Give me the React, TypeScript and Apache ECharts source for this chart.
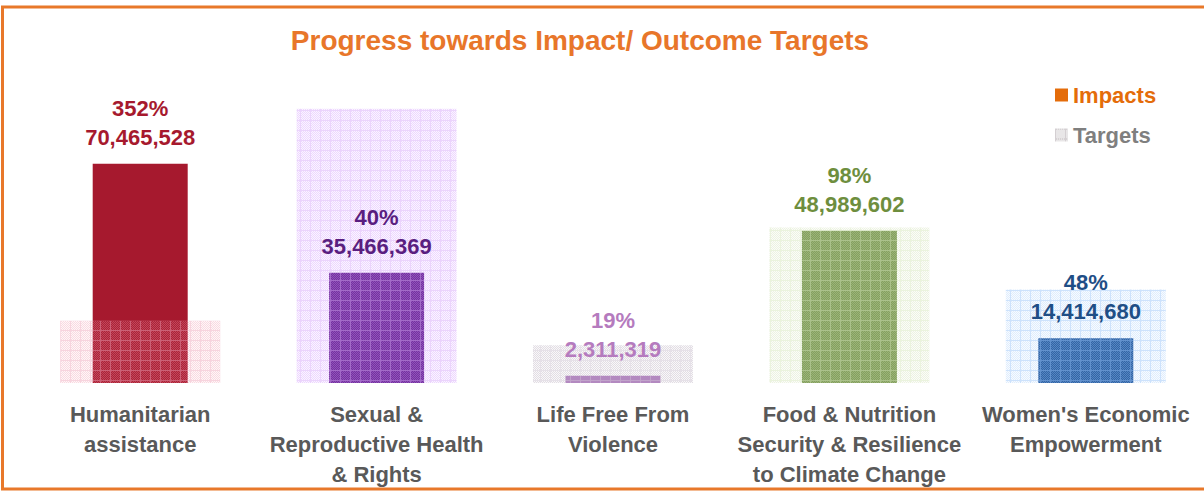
import React, { useEffect, useRef } from "react";
import * as echarts from "echarts";

const categories = [
  "Humanitarian\nassistance",
  "Sexual &\nReproductive Health\n& Rights",
  "Life Free From\nViolence",
  "Food & Nutrition\nSecurity & Resilience\nto Climate Change",
  "Women's Economic\nEmpowerment",
];
const impacts = [70465528, 35466369, 2311319, 48989602, 14414680];
const targets = [20018616, 88200000, 12164837, 49989390, 30030583];
const percents = [352, 40, 19, 98, 48];

const impactColors = ["#A6192E", "#6E2D96", "#B482C3", "#7E9B58", "#285CA0"];
const labelColors = ["#A6192E", "#5A1E80", "#B57BBE", "#6E8E3E", "#1F4E86"];
// pattern fill colour (checker) and grid line colour for each target bar, as rgb triples
const targetFill = [
  [240, 150, 172],
  [205, 140, 255],
  [175, 160, 180],
  [205, 222, 175],
  [165, 205, 250],
];
const targetLine = [
  [240, 170, 190],
  [215, 170, 250],
  [205, 195, 210],
  [215, 232, 190],
  [155, 198, 250],
];

const FONT = '"Liberation Sans", Arial, Helvetica, sans-serif';

function makeTile(fill: number[], line: number[]): HTMLCanvasElement {
  const c = document.createElement("canvas");
  c.width = 10;
  c.height = 10;
  const g = c.getContext("2d")!;
  g.clearRect(0, 0, 10, 10);
  const rgba = (col: number[], a: number) => `rgba(${col[0]},${col[1]},${col[2]},${a})`;
  for (let y = 0; y < 10; y++) {
    for (let x = 0; x < 10; x++) {
      if (x === 0 || y === 0) g.fillStyle = rgba(line, 0.5);
      else if ((x + y) % 2 === 0) g.fillStyle = rgba(fill, 0.36);
      else g.fillStyle = rgba(fill, 0.08);
      g.fillRect(x, y, 1, 1);
    }
  }
  return c;
}

function fmt(n: number) {
  return n.toLocaleString("en-US");
}

export default function App() {
  const ref = useRef<HTMLDivElement>(null);
  useEffect(() => {
    if (!ref.current) return;
    const chart = echarts.init(ref.current, undefined, { renderer: "svg" });
    const pattern = (i: number) => ({
      image: makeTile(targetFill[i], targetLine[i]),
      repeat: "repeat",
      imageWidth: 10,
      imageHeight: 10,
    });
    const greyPattern = {
      image: makeTile([150, 140, 145], [170, 160, 165]),
      repeat: "repeat",
      imageWidth: 10,
      imageHeight: 10,
    };
    chart.setOption({
      animation: false,
      grid: { left: 22, right: -7, top: 72, bottom: 110 },
      xAxis: [
        {
          type: "category",
          data: categories,
          axisLine: { show: false },
          axisTick: { show: false },
          axisLabel: {
            interval: 0,
            margin: 16,
            color: "#595959",
            fontSize: 22,
            fontWeight: "bold",
            fontFamily: FONT,
            lineHeight: 30,
          },
        },
        { type: "category", data: categories, show: false },
      ],
      yAxis: { type: "value", min: 0, max: 100000000, show: false },
      legend: {
        orient: "vertical",
        left: 1050,
        top: 78,
        itemWidth: 13,
        itemHeight: 13,
        itemGap: 16,
        selectedMode: false,
        textStyle: { fontSize: 22, fontWeight: "bold", fontFamily: FONT, lineHeight: 24 },
        data: [
          { name: "Impacts", icon: "rect", itemStyle: { color: "#E46C0A" }, textStyle: { color: "#E46C0A" } },
          { name: "Targets", icon: "rect", itemStyle: { color: greyPattern }, textStyle: { color: "#7F7F7F" } },
        ],
      },
      series: [
        {
          name: "Impacts",
          type: "bar",
          xAxisIndex: 0,
          barWidth: 95,
          barGap: "-100%",
          z: 2,
          data: impacts.map((v, i) => ({ value: v, itemStyle: { color: impactColors[i] } })),
        },
        {
          name: "Targets",
          type: "bar",
          xAxisIndex: 1,
          barWidth: 160,
          z: 3,
          data: targets.map((v, i) => ({ value: v, itemStyle: { color: pattern(i) } })),
        },
        {
          name: "labels",
          type: "bar",
          xAxisIndex: 0,
          barWidth: 95,
          barGap: "-100%",
          z: 5,
          silent: true,
          itemStyle: { color: "rgba(0,0,0,0)" },
          data: impacts.map((v, i) => ({
            value: v,
            label: {
              show: true,
              position: "top",
              distance: 12,
              color: labelColors[i],
              fontSize: 22,
              fontWeight: "bold",
              fontFamily: FONT,
              lineHeight: 29,
              formatter: () => `${percents[i]}%\n${fmt(impacts[i])}`,
            },
          })),
        },
      ],
      graphic: [
        {
          type: "rect",
          shape: { x: 2.5, y: 7, width: 1215, height: 482 },
          style: { fill: "none", stroke: "#E8782A", lineWidth: 3 },
          silent: true,
        },
        {
          type: "text",
          x: 580,
          y: 40,
          style: {
            text: "Progress towards Impact/ Outcome Targets",
            fill: "#E8762A",
            font: `bold 28px ${FONT}`,
            textAlign: "center",
            textVerticalAlign: "middle",
          },
        },
      ],
    });
    return () => chart.dispose();
  }, []);
  return (
    <div
      ref={ref}
      style={{ position: "fixed", left: 0, top: 0, width: 1204, height: 493, background: "#fff" }}
    />
  );
}
